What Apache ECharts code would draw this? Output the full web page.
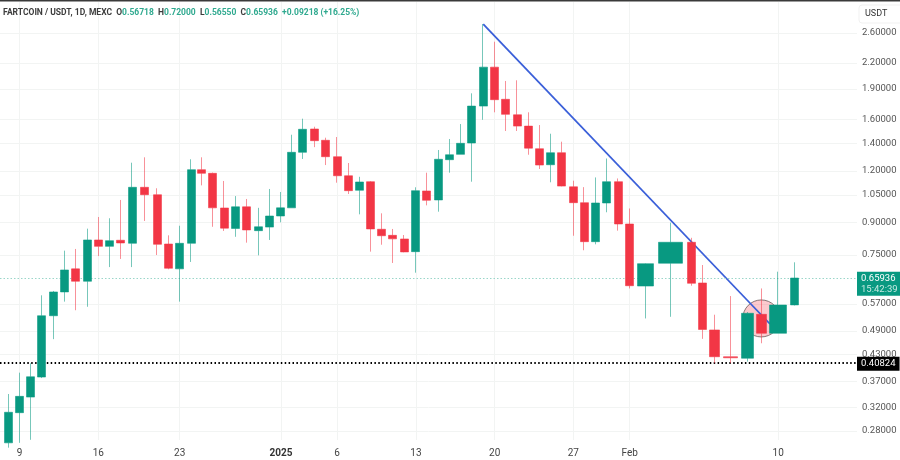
<!DOCTYPE html>
<html lang="en">
<head>
    <meta charset="UTF-8">
    <title>FARTCOIN / USDT, 1D, MEXC</title>
    <script src="https://cdn.jsdelivr.net/npm/echarts@6/dist/echarts.min.js"></script>
    <style>
        html, body, #chart {
            width: 900px;
            height: 460px;
            padding: 0;
            margin: 0;
            background: #fff;
            overflow: hidden;
        }
    </style>
</head>
<body>
<div id="chart"></div>
<script>
    // daily candles, Dec 8 to Feb 11
    var dates = ["Dec 8", "Dec 9", "Dec 10", "Dec 11", "Dec 12", "Dec 13", "Dec 14", "Dec 15", "Dec 16", "Dec 17", "Dec 18", "Dec 19", "Dec 20", "Dec 21", "Dec 22", "Dec 23", "Dec 24", "Dec 25", "Dec 26", "Dec 27", "Dec 28", "Dec 29", "Dec 30", "Dec 31",
        "Jan 1", "Jan 2", "Jan 3", "Jan 4", "Jan 5", "Jan 6", "Jan 7", "Jan 8", "Jan 9", "Jan 10", "Jan 11", "Jan 12", "Jan 13", "Jan 14", "Jan 15", "Jan 16", "Jan 17", "Jan 18", "Jan 19", "Jan 20", "Jan 21", "Jan 22", "Jan 23", "Jan 24", "Jan 25", "Jan 26", "Jan 27", "Jan 28", "Jan 29", "Jan 30", "Jan 31",
        "Feb 1", "Feb 2", "Feb 3", "Feb 4", "Feb 5", "Feb 6", "Feb 7", "Feb 8", "Feb 9", "Feb 10", "Feb 11"];
    // the time scale of the picture is not even, so every day has its own slot (Dec 9 = 0)
    var slots = [-0.99, 0, 0.99, 1.99, 2.99, 4, 5, 6, 6.97, 7.95, 8.96, 9.96, 11.08, 12.17, 13.17, 14.18, 15.18, 16.12, 17.12, 18.12, 19.13, 20.13, 21.13, 22.14,
        23.14, 24.09, 25.09, 26.12, 27.12, 28.1, 29.13, 30.11, 31.08, 32.08, 33.05, 34.05, 35.09, 36.06, 37.06, 38.07, 39.04, 40.04, 41.04, 42.05, 43.05, 44.03, 45.03, 46, 47.01, 48.01, 49.01, 49.98, 51.02, 51.99, 52.99,
        54, 55.38, 57.63, 59.49, 60.46, 61.55, 62.94, 64.41, 65.65, 67.15, 68.6];
    var opens = [0.262, 0.3102, 0.3385, 0.3787, 0.5338, 0.6099, 0.6941, 0.6475, 0.816, 0.7872, 0.8146, 0.8009, 1.0959, 1.0512, 0.7977, 0.6941, 0.8009, 1.2095, 1.1852, 0.976, 0.8703, 0.9825, 0.8596, 0.877,
        0.9331, 0.9768, 1.3331, 1.519, 1.4259, 1.3006, 1.169, 1.0778, 1.1308, 0.8664, 0.8374, 0.8206, 0.7643, 1.0736, 1.0208, 1.279, 1.3178, 1.4043, 1.7268, 2.1477, 1.7938, 1.645, 1.5438, 1.36, 1.2434, 1.3301, 1.0989, 1.0054, 0.8082, 1.0037, 1.1308,
        0.8923, 0.6304, 0.7163, 0.8055, 0.6413, 0.493, 0.4243, 0.4208, 0.5381, 0.4839, 0.56718];
    var closes = [0.3109, 0.3399, 0.3793, 0.5338, 0.6099, 0.6898, 0.6475, 0.816, 0.7872, 0.8128, 0.8023, 1.0959, 1.0512, 0.7963, 0.6964, 0.8009, 1.2095, 1.1852, 0.9768, 0.8718, 0.9825, 0.863, 0.8785, 0.9331,
        0.9768, 1.3331, 1.5164, 1.4227, 1.3006, 1.169, 1.0754, 1.1289, 0.8678, 0.8355, 0.821, 0.763, 1.0754, 1.0191, 1.282, 1.315, 1.4019, 1.7268, 2.1477, 1.7898, 1.6488, 1.5438, 1.3643, 1.2412, 1.3301, 1.1033, 1.0054, 0.8082, 1.0037, 1.1308, 0.8923,
        0.6315, 0.7145, 0.8055, 0.6402, 0.4943, 0.4243, 0.4218, 0.5412, 0.4839, 0.5669, 0.65936];
    var lows = [0.255, 0.262, 0.2665, 0.3765, 0.4682, 0.5777, 0.5505, 0.5613, 0.7457, 0.701, 0.7337, 0.701, 0.9076, 0.75, 0.6925, 0.5777, 0.7214, 1.1078, 0.8785, 0.8582, 0.8306, 0.8037, 0.7487, 0.816,
        0.9009, 0.9768, 1.2842, 1.3723, 1.2412, 1.1245, 1.0554, 0.9419, 0.7643, 0.7945, 0.7173, 0.7616, 0.6794, 0.9905, 0.956, 1.1893, 1.3178, 1.1308, 1.5993, 1.6677, 1.502, 1.502, 1.315, 1.2143, 1.127, 1.1014, 0.8355, 0.7703, 0.7963, 0.9528, 0.8596,
        0.622, 0.5258, 0.5307, 0.6315, 0.469, 0.4091, 0.4091, 0.4128, 0.4576, 0.4839, 0.5655];
    var highs = [0.3444, 0.3881, 0.4091, 0.5985, 0.6133, 0.7686, 0.7759, 0.8693, 0.928, 0.9214, 1.0208, 1.2577, 1.2963, 1.0899, 0.8374, 0.8836, 1.282, 1.2963, 1.19, 1.1353, 1.0433, 1.0265, 0.9768, 1.0856,
        1.0675, 1.4708, 1.6092, 1.5384, 1.4467, 1.4523, 1.2555, 1.1622, 1.135, 0.9473, 0.8678, 0.8389, 1.0959, 1.1893, 1.3505, 1.4363, 1.5617, 1.8547, 2.7334, 2.4763, 1.9876, 1.995, 1.6677, 1.5528, 1.4792, 1.4147, 1.1372, 1.0969, 1.1581, 1.2877, 1.1514,
        0.9733, 0.716, 0.8989, 0.8258, 0.7092, 0.5369, 0.5961, 0.545, 0.622, 0.6832, 0.72];

    var priceTicks = [2.6, 2.2, 1.9, 1.6, 1.4, 1.2, 1.05, 0.9, 0.75, 0.57, 0.49, 0.43, 0.37, 0.32, 0.28];
    var timeTickSlots = [0, 6.97, 14.18, 23.14, 28.1, 35.09, 42.05, 49.01, 54, 67.15];
    var timeTickLabels = ["9", "16", "23", "2025", "6", "13", "20", "27", "Feb", "10"];

    var lastPrice = 0.65936;
    var lastPriceTime = "15:42:39";
    var supportPrice = 0.40824;
    var trendSlots = [41.04, 66.42];
    var trendPrices = [2.7334, 0.5097];
    var circleSlot = 65.65;
    var circlePrice = 0.5258;

    var UP = "#089981";
    var DOWN = "#F23645";
    var FONT = "Roboto, 'Liberation Sans', sans-serif";

    // a few of the late candles are drawn wider than the rest
    var normalWidth = 8.5;
    var wideCandles = {"Feb 2": 16, "Feb 3": 24, "Feb 6": 10.5, "Feb 7": 14, "Feb 8": 12, "Feb 9": 10, "Feb 10": 17};

    var groups = {};
    dates.forEach(function (date, i) {
        var w = wideCandles[date] || normalWidth;
        (groups[w] = groups[w] || []).push([slots[i], opens[i], closes[i], lows[i], highs[i]]);
    });

    var candleSeries = Object.keys(groups).map(function (w) {
        return {
            type: "candlestick",
            barWidth: Number(w),
            z: 5,
            itemStyle: {
                color: UP,
                color0: DOWN,
                borderColor: "rgba(8,153,129,0.55)",
                borderColor0: "rgba(242,54,69,0.55)",
                borderWidth: 1
            },
            data: groups[w]
        };
    });

    var myChart = echarts.init(document.getElementById("chart"), null, {renderer: "canvas"});

    myChart.setOption({
        animation: false,
        backgroundColor: "#fff",
        textStyle: {fontFamily: FONT},
        title: {
            left: 3,
            top: 8,
            padding: 0,
            text: "{b|FARTCOIN / USDT, 1D, MEXC}  {b|O}{g|0.56718}  {b|H}{g|0.72000}  {b|L}{g|0.56550}  {b|C}{g|0.65936}  {g|+0.09218 (+16.25%)}",
            textStyle: {
                fontSize: 8.5,
                rich: {
                    b: {color: "#3c3c3c", fontSize: 8.5, fontFamily: FONT},
                    g: {color: "#2fa98f", fontSize: 8.5, fontFamily: FONT}
                }
            }
        },
        grid: {left: 0, right: 43, top: 2, bottom: 20},
        xAxis: {
            type: "value",
            min: -1.726,
            max: 74.12,
            axisLine: {show: false},
            axisTick: {show: false, customValues: timeTickSlots},
            splitLine: {show: true, lineStyle: {color: "#f2f4f3", width: 1}},
            axisLabel: {
                customValues: timeTickSlots,
                margin: 8,
                fontSize: 10,
                color: "#444",
                formatter: function (value) {
                    var label = timeTickLabels[timeTickSlots.indexOf(value)];
                    return label === "2025" ? "{y|2025}" : label;
                },
                rich: {y: {fontWeight: "bold", fontSize: 10, color: "#333", fontFamily: FONT}}
            }
        },
        yAxis: {
            type: "log",
            position: "right",
            min: 0.2662,
            max: 3.093,
            axisLine: {show: false},
            axisTick: {show: false, customValues: priceTicks},
            splitLine: {show: true, lineStyle: {color: "#f2f4f3", width: 1}},
            axisLabel: {
                customValues: priceTicks,
                margin: 5,
                padding: [4, 0, 0, 0],
                fontSize: 9.5,
                color: "#555",
                formatter: function (value) {
                    return value.toFixed(5);
                }
            }
        },
        series: [{
            // marked circle on the breakout candle
            type: "scatter",
            z: 2,
            symbol: "circle",
            symbolSize: 37,
            itemStyle: {color: "rgba(242,54,69,0.33)", borderColor: "#6a5a5a", borderWidth: 1},
            data: [[circleSlot, circlePrice]]
        }, {
            type: "line",
            z: 3,
            symbol: "none",
            lineStyle: {color: "#3a5fd9", width: 1.8},
            data: trendSlots.map(function (s, i) {
                return [s, trendPrices[i]];
            }),
            markLine: {
                silent: true,
                symbol: "none",
                animation: false,
                data: [{
                    yAxis: lastPrice,
                    lineStyle: {color: "#9ad6c9", type: [1.5, 2], width: 1},
                    label: {
                        position: "end",
                        distance: 0,
                        offset: [0, 6],
                        formatter: "{p|" + lastPrice.toFixed(5) + "}\n{t|" + lastPriceTime + "}",
                        backgroundColor: UP,
                        padding: [1, 5, 1, 4],
                        rich: {
                            p: {color: "#fff", fontSize: 9.5, lineHeight: 11, fontFamily: FONT},
                            t: {color: "#c7eae2", fontSize: 9.5, lineHeight: 11, fontFamily: FONT}
                        }
                    }
                }, {
                    yAxis: supportPrice,
                    lineStyle: {color: "#000", type: [1.5, 2.4], width: 1.8},
                    label: {
                        position: "end",
                        distance: 0,
                        offset: [0, 1],
                        formatter: supportPrice.toFixed(5),
                        color: "#fff",
                        fontSize: 9.5,
                        backgroundColor: "#000",
                        padding: [2, 4, 2, 4]
                    }
                }]
            }
        }].concat(candleSeries),
        graphic: [{
            type: "rect",
            silent: true,
            shape: {x: 0, y: 0, width: 900, height: 1.5},
            style: {fill: "#3a3a3a"}
        }, {
            type: "rect",
            silent: true,
            shape: {x: 859, y: 5, width: 45, height: 18, r: 3},
            style: {fill: "#fff", stroke: "#f1f1f1"}
        }, {
            type: "text",
            silent: true,
            x: 865,
            y: 9,
            style: {text: "USDT", fill: "#333", fontSize: 9, fontFamily: FONT}
        }]
    });
</script>
</body>
</html>
